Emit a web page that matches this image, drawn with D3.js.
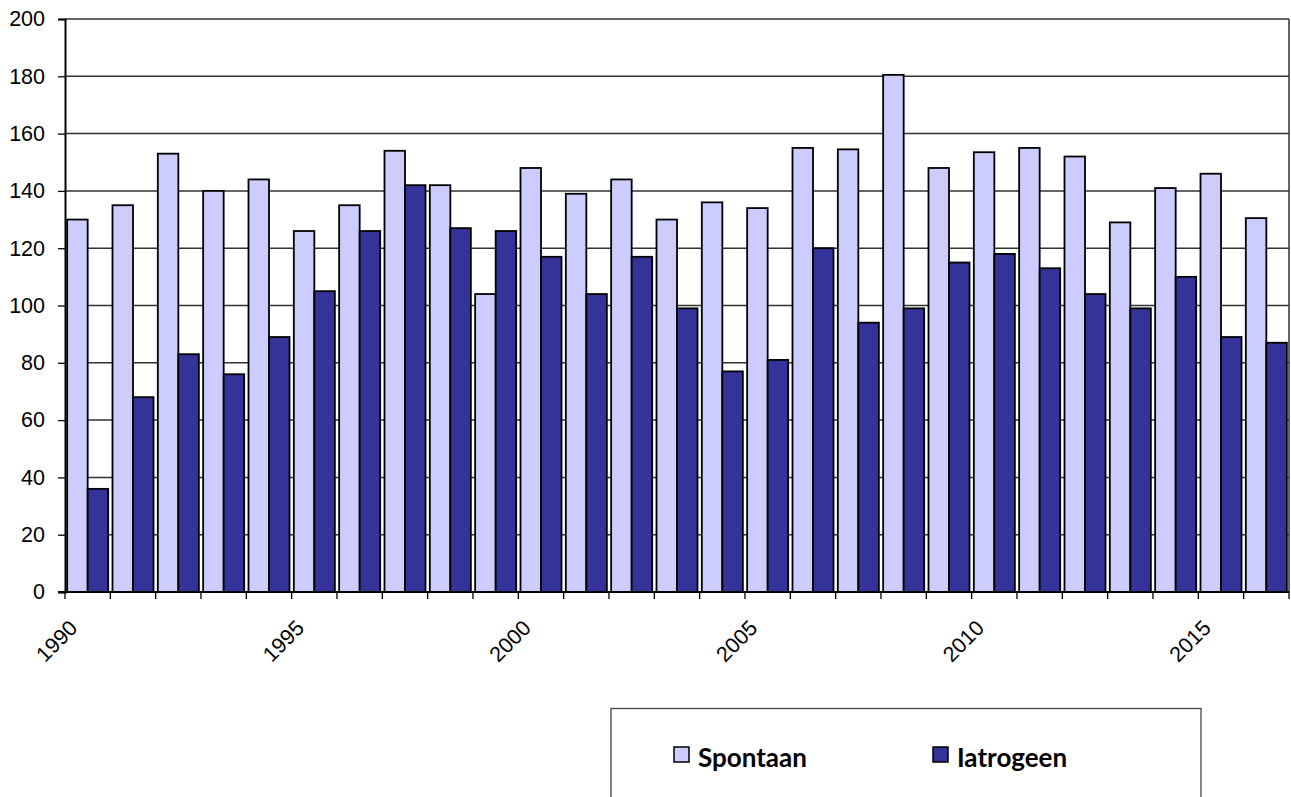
<!DOCTYPE html>
<html>
<head>
<meta charset="utf-8">
<script src="https://cdn.jsdelivr.net/npm/d3@7"></script>
<style>
  body { margin: 0; background: #fff; }
  svg { display: block; }
  .lbl { font-family: "Liberation Sans", Arial, sans-serif; font-size: 21.5px; fill: #000; }
</style>
</head>
<body>
<div id="vis"></div>
<script>
const years = ['1990','1991','1992','1993','1994','1995','1996','1997','1998','1999',
  '2000','2001','2002','2003','2004','2005','2006','2007','2008','2009',
  '2010','2011','2012','2013','2014','2015','2016'];
const spontaan = [130, 135, 153, 140, 144, 126, 135, 154, 142, 104, 148, 139, 144, 130,
  136, 134, 155, 154.5, 180.5, 148, 153.5, 155, 152, 129, 141, 146, 130.5];
const iatrogeen = [36, 68, 83, 76, 89, 105, 126, 142, 127, 126, 117, 104, 117, 99,
  77, 81, 120, 94, 99, 115, 118, 113, 104, 99, 110, 89, 87];
const seriesNames = ['Spontaan', 'Iatrogeen'];
const yTicks = [0, 20, 40, 60, 80, 100, 120, 140, 160, 180, 200];
const xLabels = ['1990', '1995', '2000', '2005', '2010', '2015'];

const width = 1291;
const height = 797;
const plot = { left: 65, right: 1289, top: 19, bottom: 592 };

const fillColor = d3.scaleOrdinal()
  .domain(seriesNames)
  .range(['#ccccff', '#333399']);

const svg = d3.select('#vis').append('svg')
  .attr('width', width)
  .attr('height', height);

const x0 = d3.scaleBand()
  .domain(years)
  .range([plot.left, plot.right])
  .padding(0);

const x1 = d3.scaleBand()
  .domain(seriesNames)
  .range([0, x0.bandwidth()])
  .paddingInner(0)
  .paddingOuter(0.105);

const y = d3.scaleLinear()
  .domain([0, 200])
  .range([plot.bottom, plot.top]);

// gridlines
svg.append('g')
  .selectAll('line')
  .data(yTicks.filter(d => d > 0))
  .join('line')
  .attr('x1', plot.left)
  .attr('x2', plot.right)
  .attr('y1', d => y(d))
  .attr('y2', d => y(d))
  .attr('stroke', '#333')
  .attr('stroke-width', 1.5);

// right border of the plot area
svg.append('line')
  .attr('x1', plot.right).attr('x2', plot.right)
  .attr('y1', plot.top).attr('y2', plot.bottom)
  .attr('stroke', '#333')
  .attr('stroke-width', 1.5);

// bars
const rows = years.map((yr, i) => ({
  year: yr,
  values: [
    { key: 'Spontaan', value: spontaan[i] },
    { key: 'Iatrogeen', value: iatrogeen[i] }
  ]
}));

svg.append('g')
  .selectAll('g')
  .data(rows)
  .join('g')
  .attr('transform', d => `translate(${x0(d.year)},0)`)
  .selectAll('rect')
  .data(d => d.values)
  .join('rect')
  .attr('x', d => x1(d.key))
  .attr('y', d => y(d.value))
  .attr('width', x1.bandwidth())
  .attr('height', d => y(0) - y(d.value))
  .attr('fill', d => fillColor(d.key))
  .attr('stroke', '#000')
  .attr('stroke-width', 1.8);

// y axis
const yAxis = svg.append('g')
  .attr('transform', `translate(${plot.left},0)`)
  .call(d3.axisLeft(y).tickValues(yTicks).tickSize(7).tickPadding(13));
yAxis.select('.domain').attr('stroke', '#000').attr('stroke-width', 2);
yAxis.selectAll('.tick line').attr('stroke', '#000').attr('stroke-width', 1.3);
yAxis.selectAll('.tick text')
  .attr('class', 'lbl')
  .attr('font-size', null)
  .attr('font-family', null);
yAxis.attr('font-size', null).attr('font-family', null);

// x axis: ticks on every group boundary, labels every five years
const boundaries = years.map(d => x0(d)).concat([plot.right]);
svg.append('g')
  .selectAll('line')
  .data(boundaries)
  .join('line')
  .attr('x1', d => d).attr('x2', d => d)
  .attr('y1', plot.bottom).attr('y2', plot.bottom + 7)
  .attr('stroke', '#000')
  .attr('stroke-width', 1.3);

svg.append('line')
  .attr('x1', plot.left - 7).attr('x2', plot.right)
  .attr('y1', plot.bottom).attr('y2', plot.bottom)
  .attr('stroke', '#000')
  .attr('stroke-width', 2);

svg.append('g')
  .selectAll('text')
  .data(xLabels)
  .join('text')
  .attr('class', 'lbl')
  .attr('transform', d => `translate(${x0(d) + 8.5},${plot.bottom + 32}) rotate(-45)`)
  .attr('text-anchor', 'end')
  .attr('dy', '0.35em')
  .text(d => d);

// legend
const legend = svg.append('g');
legend.append('rect')
  .attr('x', 611).attr('y', 708.5)
  .attr('width', 590).attr('height', 120)
  .attr('fill', '#fff')
  .attr('stroke', '#444')
  .attr('stroke-width', 1.3);

const legendX = d3.scaleOrdinal()
  .domain(seriesNames)
  .range([674, 933]);

const item = legend.selectAll('.item')
  .data(seriesNames)
  .join('g')
  .attr('class', 'item')
  .attr('transform', d => `translate(${legendX(d)},747)`);

item.append('rect')
  .attr('width', 15).attr('height', 15)
  .attr('fill', d => fillColor(d))
  .attr('stroke', '#000')
  .attr('stroke-width', 1.5);

item.append('text')
  .attr('x', 24)
  .attr('y', 20)
  .attr('font-family', 'Lato, "Open Sans", sans-serif')
  .attr('font-weight', 'bold')
  .attr('font-size', 26)
  .attr('fill', '#000')
  .text(d => d);
</script>
</body>
</html>
